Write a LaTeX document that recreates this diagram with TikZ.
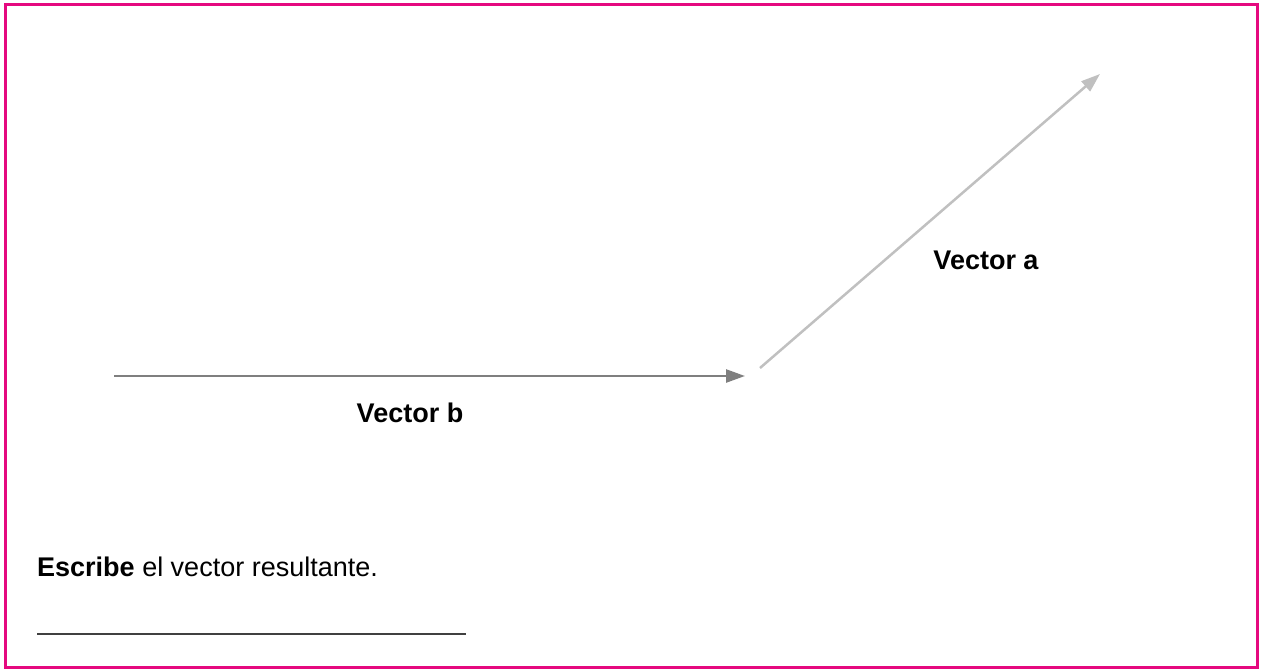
\documentclass[tikz,border=0pt]{standalone}
\usepackage{fontspec}
\setmainfont{Liberation Sans}
\usetikzlibrary{arrows.meta}
\definecolor{marco}{HTML}{E5097F}
\definecolor{grisb}{HTML}{7F7F7F}
\definecolor{grisa}{HTML}{C0C0C0}
\definecolor{lineagris}{HTML}{404040}

\begin{document}
\begin{tikzpicture}[x=1pt, y=-1pt, >={Triangle[length=19pt, width=13pt]},
    rotulo/.style={font=\fontsize{27}{32}\selectfont\bfseries, inner sep=0pt}]
    \useasboundingbox (0,0) rectangle (1261,669);
    % Marco
    \draw[marco, line width=3pt] (5.5,4.5) rectangle (1257.5,667.5);

    % Vector b (horizontal)
    \coordinate (bIni) at (114,376);
    \coordinate (bFin) at (745,376);
    \draw[grisb, line width=2.5pt, ->] (bIni) -- (bFin);
    \node[rotulo] (rotb) at (410,413) {Vector b};

    % Vector a (diagonal)
    \coordinate (aIni) at (760,368);
    \coordinate (aFin) at (1100,74);
    \draw[grisa, line width=2.5pt, ->] (aIni) -- (aFin);
    \node[rotulo] (rota) at (986,260) {Vector a};

    % Consigna y linea de respuesta
    \node[anchor=base west, inner sep=0pt, font=\fontsize{27}{32}\selectfont] (consigna) at (37,576)
        {\textbf{Escribe} el vector resultante.};
    \coordinate (lIni) at (37,634);
    \coordinate (lFin) at (466,634);
    \draw[lineagris, line width=1.5pt] (lIni) -- (lFin);
\end{tikzpicture}
\end{document}
